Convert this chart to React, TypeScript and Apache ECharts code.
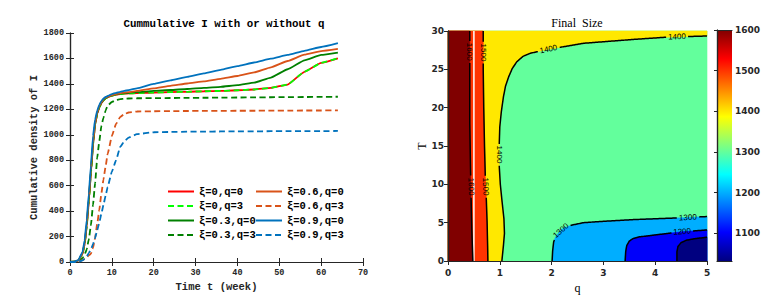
import React, { useEffect, useRef } from 'react';
import * as echarts from 'echarts';

// ---------- Left panel data (cumulative I, weeks) ----------
const weeks = [0, 1, 2, 3, 3.5, 4, 4.5, 5, 5.5, 6, 6.5, 7, 7.5, 8, 8.5, 9, 10, 11, 12, 13, 14, 16, 20, 24, 28, 32, 36, 40, 44, 48, 52, 56, 60, 64];
const xi0q0 = [0, 2, 12, 65, 140, 280, 480, 700, 920, 1080, 1165, 1215, 1248, 1270, 1285, 1295, 1307, 1315, 1320, 1323, 1325, 1328, 1332, 1335, 1338, 1342, 1345, 1350, 1356, 1368, 1395, 1495, 1565, 1601];
const xi0q3 = [0, 2, 12, 65, 140, 280, 480, 700, 920, 1080, 1165, 1215, 1248, 1270, 1285, 1295, 1307, 1315, 1320, 1323, 1325, 1328, 1332, 1335, 1338, 1342, 1345, 1350, 1356, 1368, 1395, 1495, 1565, 1601];
const xi03q0 = [0, 2, 12, 70, 145, 290, 490, 710, 930, 1085, 1170, 1220, 1252, 1275, 1288, 1298, 1310, 1318, 1323, 1327, 1330, 1335, 1345, 1352, 1360, 1368, 1377, 1390, 1410, 1450, 1515, 1585, 1628, 1646];
const xi03q3 = [0, 1, 5, 30, 60, 100, 180, 290, 450, 620, 820, 950, 1070, 1135, 1190, 1230, 1258, 1272, 1280, 1283, 1285, 1287, 1288, 1289, 1290, 1291, 1292, 1293, 1294, 1295, 1296, 1297, 1298, 1299];
const xi06q0 = [0, 2, 13, 70, 150, 300, 500, 720, 940, 1090, 1175, 1225, 1256, 1280, 1292, 1300, 1312, 1320, 1326, 1331, 1335, 1345, 1365, 1385, 1403, 1420, 1440, 1462, 1490, 1530, 1580, 1630, 1658, 1675];
const xi06q3 = [0, 1, 3, 15, 25, 38, 52, 65, 110, 190, 300, 410, 540, 650, 750, 850, 990, 1085, 1140, 1163, 1175, 1183, 1185, 1186, 1187, 1188, 1188, 1189, 1189, 1190, 1190, 1191, 1191, 1192];
const xi09q0 = [0, 2, 15, 80, 170, 330, 540, 760, 990, 1120, 1190, 1235, 1265, 1285, 1297, 1305, 1320, 1330, 1338, 1345, 1351, 1365, 1400, 1428, 1455, 1482, 1510, 1540, 1568, 1598, 1628, 1660, 1690, 1720];
const xi09q3 = [0, 0, 2, 12, 25, 45, 70, 100, 140, 190, 250, 310, 380, 450, 520, 590, 710, 800, 905, 950, 978, 1005, 1020, 1022, 1024, 1025, 1026, 1027, 1027, 1028, 1028, 1029, 1029, 1030];
const seriesNames = ['ξ=0,q=0', 'ξ=0,q=3', 'ξ=0.3,q=0', 'ξ=0.3,q=3', 'ξ=0.6,q=0', 'ξ=0.6,q=3', 'ξ=0.9,q=0', 'ξ=0.9,q=3'];
const seriesValues = [xi0q0, xi0q3, xi03q0, xi03q3, xi06q0, xi06q3, xi09q0, xi09q3];

// ---------- Right panel data (final size contours over q, T) ----------
const qRange = [0, 5];
const TRange = [0, 30];
const colorMin = 1032;
const colorMax = 1600;
const colorbarTicks = [1100, 1200, 1300, 1400, 1500, 1600];
const c1600 = [[0.48, 0], [0.47, 2], [0.46, 4], [0.45, 7], [0.44, 10], [0.43, 14], [0.42, 18], [0.42, 24], [0.42, 30]];
const c1500 = [[0.77, 0], [0.765, 2], [0.755, 5], [0.74, 8], [0.72, 11], [0.705, 15], [0.69, 20], [0.68, 25], [0.68, 30]];
const c1400 = [[1.04, 0], [1.07, 2], [1.09, 3.6], [1.08, 5.5], [1.04, 8], [1.01, 10], [0.99, 12.3], [0.99, 15.4], [1.0, 17.5], [1.03, 19.5], [1.07, 21.4], [1.11, 22.8], [1.17, 24.0], [1.24, 25.1], [1.33, 26.0], [1.45, 26.7], [1.59, 27.1], [1.97, 27.65], [2.62, 28.4], [3.58, 28.9], [4.23, 29.2], [5, 29.35]];
const c1300 = [[2.01, 0], [2.02, 1.3], [2.04, 2.5], [2.08, 3.2], [2.15, 3.8], [2.23, 4.3], [2.4, 4.7], [2.62, 5.0], [2.94, 5.15], [3.58, 5.4], [4.55, 5.65], [5, 5.8]];
const c1200 = [[3.42, 0], [3.43, 1.2], [3.45, 2.0], [3.5, 2.6], [3.58, 2.95], [3.7, 3.15], [4.0, 3.4], [4.5, 3.8], [5, 4.05]];
const c1100 = [[4.42, 0], [4.42, 1.2], [4.44, 1.9], [4.5, 2.4], [4.6, 2.7], [4.75, 2.9], [5, 3.1]];
const seamQ = 0.5;
const contourLabels = [
  { level: 1600, q: 0.42, T: 27.3 },
  { level: 1600, q: 0.445, T: 9.7 },
  { level: 1500, q: 0.68, T: 27.2 },
  { level: 1500, q: 0.725, T: 9.7 },
  { level: 1400, q: 0.99, T: 13.9 },
  { level: 1400, q: 1.94, T: 27.62 },
  { level: 1400, q: 4.42, T: 29.25 },
  { level: 1300, q: 2.18, T: 3.95 },
  { level: 1300, q: 4.63, T: 5.67 },
  { level: 1200, q: 4.52, T: 3.83 },
];

const MONO = '"Liberation Mono", "DejaVu Sans Mono", monospace';
const SANS = '"DejaVu Sans", "Liberation Sans", sans-serif';
const SERIF = '"Liberation Serif", "DejaVu Serif", serif';
const AX = '#262626';

function jetRGB(v: number) {
  const c = (x: number) => Math.max(0, Math.min(1, x));
  const r = c(Math.min(4 * v - 1.5, -4 * v + 4.5));
  const g = c(Math.min(4 * v - 0.5, -4 * v + 3.5));
  const b = c(Math.min(4 * v + 0.5, -4 * v + 2.5));
  const h = (x: number) => Math.round(x * 255).toString(16).padStart(2, '0');
  return '#' + h(r) + h(g) + h(b);
}
const levelColor = (level: number) => jetRGB((level - colorMin) / (colorMax - colorMin));
const plain = (v: number) => String(v);

function splitAround(pts: number[][], centers: number[][], r: number) {
  const out: number[][][] = [];
  let cur: number[][] = [];
  for (let i = 0; i < pts.length - 1; i++) {
    const [x0, y0] = pts[i];
    const [x1, y1] = pts[i + 1];
    const n = Math.max(1, Math.ceil(Math.hypot(x1 - x0, y1 - y0)));
    for (let k = i === 0 ? 0 : 1; k <= n; k++) {
      const t = k / n;
      const x = x0 + (x1 - x0) * t;
      const y = y0 + (y1 - y0) * t;
      const hidden = centers.some((c) => Math.hypot(x - c[0], y - c[1]) < r);
      if (hidden) {
        if (cur.length > 1) out.push(cur);
        cur = [];
      } else cur.push([x, y]);
    }
  }
  if (cur.length > 1) out.push(cur);
  return out;
}

function buildOption() {
  const lineStyles = [
    { color: '#FF0000', type: 'solid' },
    { color: '#00FF00', type: [6, 3.5] },
    { color: '#008000', type: 'solid' },
    { color: '#008000', type: [6, 3.5] },
    { color: '#D95319', type: 'solid' },
    { color: '#D95319', type: [6, 3.5] },
    { color: '#0072BD', type: 'solid' },
    { color: '#0072BD', type: [6, 3.5] },
  ];
  const lineSeries = seriesNames.map((name, i) => ({
    name,
    type: 'line',
    xAxisIndex: 0,
    yAxisIndex: 0,
    data: weeks.map((t, j) => [t, seriesValues[i][j]]),
    symbol: 'none',
    showSymbol: false,
    smooth: 0.12,
    smoothMonotone: 'x',
    color: lineStyles[i].color,
    lineStyle: { color: lineStyles[i].color, width: 1.8, type: lineStyles[i].type },
    z: 3 + i,
  }));

  const contours = [
    { level: 1600, pts: c1600 },
    { level: 1500, pts: c1500 },
    { level: 1400, pts: c1400 },
    { level: 1300, pts: c1300 },
    { level: 1200, pts: c1200 },
    { level: 1100, pts: c1100 },
  ];

  const renderContour = (_params: any, api: any) => {
    const P = (p: number[]) => api.coord(p);
    const children: any[] = [];
    const poly = (pts: number[][], level: number) => {
      const col = levelColor(level);
      children.push({ type: 'polygon', shape: { points: pts.map(P) }, style: { fill: col, stroke: col, lineWidth: 0.6 } });
    };
    const [q0, q1] = qRange;
    const [t0, t1] = TRange;
    poly([[q0, t0], [q1, t0], [q1, t1], [q0, t1]], 1300);
    poly([...c1400, [q1, t1], [q0, t1], [q0, t0]], 1400);
    poly([...c1500, [q0, t1], [q0, t0]], 1500);
    poly([...c1600, [q0, t1], [q0, t0]], 1600);
    poly([...c1300, [q1, t0]], 1200);
    poly([...c1200, [q1, t0]], 1100);
    poly([...c1100, [q1, t0]], colorMin);
    const s0 = P([seamQ, t0]);
    const s1 = P([seamQ, t1]);
    children.push({ type: 'line', shape: { x1: s0[0], y1: s0[1], x2: s1[0], y2: s1[1] }, style: { stroke: '#ffffff', lineWidth: 1.5 } });

    contours.forEach((c) => {
      const px = c.pts.map(P);
      const centers = contourLabels.filter((l) => l.level === c.level).map((l) => P([l.q, l.T]));
      splitAround(px, centers, 10.5).forEach((seg) => {
        children.push({ type: 'polyline', shape: { points: seg }, style: { stroke: '#000', fill: 'none', lineWidth: 1.5 } });
      });
    });

    contourLabels.forEach((l) => {
      const c = contours.find((cc) => cc.level === l.level)!;
      const px = c.pts.map(P);
      const p = P([l.q, l.T]);
      let best = 0;
      let bd = Infinity;
      for (let i = 0; i < px.length - 1; i++) {
        const mx = (px[i][0] + px[i + 1][0]) / 2;
        const my = (px[i][1] + px[i + 1][1]) / 2;
        const d = Math.hypot(mx - p[0], my - p[1]);
        if (d < bd) { bd = d; best = i; }
      }
      const dx = px[best + 1][0] - px[best][0];
      const dy = px[best + 1][1] - px[best][1];
      let ang = Math.atan2(-dy, dx);
      if (ang > Math.PI / 2) ang -= Math.PI;
      if (ang <= -Math.PI / 2) ang += Math.PI;
      if (ang > Math.PI / 2 - 0.25) ang -= Math.PI;
      children.push({
        type: 'text',
        x: p[0],
        y: p[1],
        rotation: ang,
        style: { text: String(l.level), fill: '#000', font: '8px "Liberation Sans", Arial, sans-serif', align: 'center', verticalAlign: 'middle' },
      });
    });
    return { type: 'group', children };
  };

  const jetStops = [0, 1 / 8, 3 / 8, 5 / 8, 7 / 8, 1].map((o) => ({ offset: o, color: jetRGB(o) }));
  const renderBar = (_params: any, api: any) => {
    const a = api.coord([0, colorMax]);
    const b = api.coord([1, colorMin]);
    return {
      type: 'rect',
      shape: { x: a[0], y: a[1], width: b[0] - a[0], height: b[1] - a[1] },
      style: { fill: new echarts.graphic.LinearGradient(0, 1, 0, 0, jetStops) },
    };
  };

  const axLine = { show: true, lineStyle: { color: AX, width: 1.2 } };
  const monoLabel = { fontFamily: MONO, fontWeight: 'bold', fontSize: 8.5, color: AX, formatter: plain };
  const sansLabel = { fontFamily: SANS, fontWeight: 'bold', fontSize: 9, color: AX, formatter: plain };
  const noSplit = { show: false };
  const hidden = { show: false };

  const legendCommon = {
    orient: 'vertical',
    itemWidth: 26,
    itemHeight: 10,
    itemGap: 3.5,
    padding: 0,
    selectedMode: false,
    itemStyle: { opacity: 0 },
    textStyle: { fontFamily: MONO, fontWeight: 'bold', fontSize: 10.5, color: '#000', lineHeight: 10 },
  };

  return {
    animation: false,
    backgroundColor: '#ffffff',
    title: [
      { text: 'Cummulative I with or without q', left: 224, top: 18.5, textAlign: 'center', padding: 0, textStyle: { fontFamily: MONO, fontWeight: 'bold', fontSize: 10.8, color: '#000' } },
      { text: 'Final  Size', left: 577, top: 16.5, textAlign: 'center', padding: 0, textStyle: { fontFamily: SERIF, fontWeight: 'normal', fontSize: 12, color: '#000' } },
    ],
    legend: [
      { ...legendCommon, left: 167, top: 186, data: [seriesNames[0], seriesNames[1], seriesNames[2], seriesNames[3]] },
      { ...legendCommon, left: 255, top: 186, data: [seriesNames[4], seriesNames[5], seriesNames[6], seriesNames[7]] },
    ],
    grid: [
      { left: 70, top: 33, width: 293, height: 229, outerBoundsMode: 'none' },
      { left: 448, top: 31, width: 259, height: 230, outerBoundsMode: 'none' },
      { left: 717, top: 30, width: 15, height: 231, outerBoundsMode: 'none' },
    ],
    xAxis: [
      {
        gridIndex: 0, type: 'value', min: 0, max: 70, interval: 10, position: 'bottom',
        axisLine: axLine, axisTick: { show: true, inside: true, length: 4, lineStyle: { color: AX } },
        axisLabel: { ...monoLabel, margin: 6 }, splitLine: noSplit,
        name: 'Time t (week)', nameLocation: 'middle', nameGap: 19,
        nameTextStyle: { fontFamily: MONO, fontWeight: 'bold', fontSize: 10.5, color: AX },
      },
      {
        gridIndex: 0, type: 'value', min: 0, max: 70, interval: 10, position: 'top',
        axisLine: axLine, axisTick: { show: true, inside: true, length: 4, lineStyle: { color: AX } },
        axisLabel: hidden, splitLine: noSplit,
      },
      {
        gridIndex: 1, type: 'value', min: qRange[0], max: qRange[1], interval: 1, position: 'bottom',
        axisLine: axLine, axisTick: hidden, axisLabel: { ...sansLabel, margin: 7 }, splitLine: noSplit, z: 10,
        name: 'q', nameLocation: 'middle', nameGap: 19,
        nameTextStyle: { fontFamily: SERIF, fontSize: 12, color: '#000' },
      },
      {
        gridIndex: 1, type: 'value', min: qRange[0], max: qRange[1], interval: 1, position: 'top',
        axisLine: axLine, axisTick: { show: true, inside: true, length: 4, lineStyle: { color: AX } },
        axisLabel: hidden, splitLine: noSplit, z: 10,
      },
      { gridIndex: 2, type: 'value', min: 0, max: 1, position: 'bottom', axisLine: axLine, axisTick: hidden, axisLabel: hidden, splitLine: noSplit, z: 10 },
      { gridIndex: 2, type: 'value', min: 0, max: 1, position: 'top', axisLine: axLine, axisTick: hidden, axisLabel: hidden, splitLine: noSplit, z: 10 },
    ],
    yAxis: [
      {
        gridIndex: 0, type: 'value', min: 0, max: 1800, interval: 200, position: 'left',
        axisLine: axLine, axisTick: { show: true, inside: true, length: 4, lineStyle: { color: AX } },
        axisLabel: { ...monoLabel, margin: 6 }, splitLine: noSplit,
        name: 'Cumulative density of I', nameLocation: 'middle', nameGap: 31,
        nameTextStyle: { fontFamily: MONO, fontWeight: 'bold', fontSize: 10.5, color: AX },
      },
      {
        gridIndex: 0, type: 'value', min: 0, max: 1800, interval: 200, position: 'right',
        axisLine: axLine, axisTick: { show: true, inside: true, length: 4, lineStyle: { color: AX } },
        axisLabel: hidden, splitLine: noSplit,
      },
      {
        gridIndex: 1, type: 'value', min: TRange[0], max: TRange[1], interval: 5, position: 'left',
        axisLine: axLine, axisTick: hidden, axisLabel: { ...sansLabel, margin: 4 }, splitLine: noSplit, z: 10,
        name: 'T', nameLocation: 'middle', nameGap: 20,
        nameTextStyle: { fontFamily: SERIF, fontSize: 12, color: '#000' },
      },
      {
        gridIndex: 1, type: 'value', min: TRange[0], max: TRange[1], interval: 5, position: 'right',
        axisLine: axLine, axisTick: { show: true, inside: true, length: 4, lineStyle: { color: AX } },
        axisLabel: hidden, splitLine: noSplit, z: 10,
      },
      { gridIndex: 2, type: 'value', min: colorMin, max: colorMax, position: 'left', axisLine: axLine, axisTick: hidden, axisLabel: hidden, splitLine: noSplit, z: 10 },
      {
        gridIndex: 2, type: 'value', min: colorMin, max: colorMax, position: 'right',
        axisLine: axLine,
        axisTick: { show: true, inside: true, length: 3, customValues: colorbarTicks, lineStyle: { color: AX } },
        axisLabel: { ...sansLabel, margin: 3, customValues: colorbarTicks }, splitLine: noSplit, z: 10,
      },
    ],
    series: [
      ...lineSeries,
      { type: 'custom', xAxisIndex: 2, yAxisIndex: 2, data: [[qRange[0], TRange[0]]], renderItem: renderContour, silent: true, z: 2 },
      { type: 'custom', xAxisIndex: 4, yAxisIndex: 4, data: [[0, colorMin]], renderItem: renderBar, silent: true, z: 2 },
    ],
  };
}

export default function App() {
  const ref = useRef<HTMLDivElement>(null);
  useEffect(() => {
    document.body.style.margin = '0';
    const chart = echarts.init(ref.current!, null, { renderer: 'svg' });
    chart.setOption(buildOption() as any);
    return () => chart.dispose();
  }, []);
  return <div ref={ref} style={{ width: 775, height: 297 }} />;
}
